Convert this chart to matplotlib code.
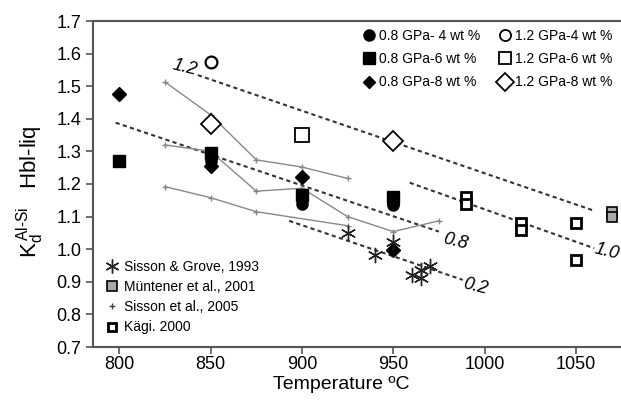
import matplotlib
matplotlib.use("Agg")
import matplotlib.pyplot as plt
from matplotlib.lines import Line2D

plt.rcParams['font.family'] = ['Liberation Sans', 'DejaVu Sans']
plt.rcParams['mathtext.fontset'] = 'custom'
plt.rcParams['mathtext.rm'] = 'Liberation Sans'
plt.rcParams['mathtext.it'] = 'Liberation Sans:italic'

# experiments (this study)
t_08_4 = [850, 850, 900, 900, 950, 950]
kd_08_4 = [1.28, 1.27, 1.15, 1.14, 1.14, 1.135]
t_08_6 = [800, 850, 900, 950]
kd_08_6 = [1.27, 1.295, 1.165, 1.16]
t_08_8 = [800, 850, 900, 950]
kd_08_8 = [1.475, 1.255, 1.22, 0.998]
t_12_4 = [850]
kd_12_4 = [1.575]
t_12_6 = [900]
kd_12_6 = [1.35]
t_12_8 = [850, 950]
kd_12_8 = [1.383, 1.333]

# literature
t_sg93 = [925, 940, 950, 960, 965, 965, 970]
kd_sg93 = [1.051, 0.982, 1.023, 0.921, 0.936, 0.911, 0.948]
t_mun01 = [1070, 1070]
kd_mun01 = [1.115, 1.098]
t_kagi = [990, 990, 1020, 1020, 1050, 1050]
kd_kagi = [1.161, 1.139, 1.081, 1.059, 1.079, 0.967]

# Sisson et al. 2005 series
s05_t1 = [825, 850, 875, 900, 925]
s05_kd1 = [1.513, 1.412, 1.274, 1.252, 1.217]
s05_t2 = [825, 850, 875, 900, 925, 950, 975]
s05_kd2 = [1.32, 1.30, 1.178, 1.187, 1.10, 1.054, 1.087]
s05_t3 = [825, 850, 875, 925]
s05_kd3 = [1.192, 1.158, 1.115, 1.072]

# dotted isopleths: label, (T start, T end), (Kd start, Kd end), label position
iso_labels = ['1.2', '1.0', '0.8', '0.2']
iso_t = [(843, 1060), (959, 1060), (798, 975), (893, 988)]
iso_kd = [(1.534, 1.118), (1.204, 1.003), (1.388, 1.054), (1.087, 0.906)]
iso_lab_t = [836, 1067, 984, 995]
iso_lab_kd = [1.556, 0.991, 1.022, 0.884]

fig = plt.figure(figsize=(6.21, 4.0), dpi=100)
ax = fig.add_axes([0.1498, 0.1325, 0.8502, 0.815])

for (t0, t1), (k0, k1) in zip(iso_t, iso_kd):
    ax.plot([t0, t1], [k0, k1], ls=(0, (2.0, 1.6)), color='#333333', lw=1.5, zorder=2)
for lab, tx, ky in zip(iso_labels, iso_lab_t, iso_lab_kd):
    ax.text(tx, ky, lab, fontsize=13, style='italic', rotation=-14,
            ha='center', va='center', zorder=3)

for t, kd in [(s05_t1, s05_kd1), (s05_t2, s05_kd2), (s05_t3, s05_kd3)]:
    ax.plot(t, kd, color='#888888', lw=1.0, marker='+', ms=5, mew=1.0, zorder=3)

ax.plot(t_08_6, kd_08_6, 's', color='black', ms=8.5, ls='none', zorder=4)
ax.plot(t_08_4, kd_08_4, 'o', color='black', ms=8, ls='none', zorder=4)
ax.plot(t_08_8, kd_08_8, 'D', color='black', ms=7, ls='none', zorder=5)
ax.plot(t_12_4, kd_12_4, 'o', mfc='white', mec='black', mew=1.6, ms=8.5, ls='none', zorder=4)
ax.plot(t_12_6, kd_12_6, 's', mfc='white', mec='black', mew=1.3, ms=10, ls='none', zorder=4)
ax.plot(t_12_8, kd_12_8, 'D', mfc='white', mec='black', mew=1.3, ms=10, ls='none', zorder=4)

star = (6, 2, 0)
ax.plot(t_sg93, kd_sg93, ls='none', marker=star, ms=11, mew=1.0, color='#222222', zorder=6)
ax.plot(t_mun01, kd_mun01, 's', mfc='#aaaaaa', mec='black', mew=1.2, ms=7, ls='none', zorder=4)
ax.plot(t_kagi, kd_kagi, 's', mfc='white', mec='black', mew=2.0, ms=6.5, ls='none', zorder=4)

ax.set_xlim(785.6, 1074.7)
ax.set_ylim(0.7, 1.7)
ax.set_xticks([800, 850, 900, 950, 1000, 1050])
ax.set_yticks([0.7 + 0.1 * i for i in range(11)])
ax.set_yticklabels([f'{0.7 + 0.1 * i:.1f}' for i in range(11)])
ax.tick_params(direction='out', length=5, width=1.2, labelsize=13, color='#555555')
ax.tick_params(axis='x', pad=1.5)
for side in ['left', 'bottom', 'top']:
    ax.spines[side].set_color('#555555')
    ax.spines[side].set_linewidth(1.5)
ax.spines['right'].set_visible(False)

ax.set_xlabel('Temperature ºC', fontsize=14)
ax.xaxis.set_label_coords(0.47, -0.088)

# y label: K_d^(Al-Si) followed by Hbl-liq on the same baseline
fig.text(0.06, 0.355, r'$\mathregular{K_d^{\,Al\text{-}Si}\quad Hbl\text{-}liq}$', fontsize=16,
         rotation=90, rotation_mode='anchor', ha='left', va='baseline')

# legend: experiments
h_exp = [
    Line2D([], [], ls='none', marker='o', color='black', ms=8),
    Line2D([], [], ls='none', marker='s', color='black', ms=8.5),
    Line2D([], [], ls='none', marker='D', color='black', ms=6),
    Line2D([], [], ls='none', marker='o', mfc='white', mec='black', mew=1.3, ms=8),
    Line2D([], [], ls='none', marker='s', mfc='white', mec='black', mew=1.3, ms=8.5),
    Line2D([], [], ls='none', marker='D', mfc='white', mec='black', mew=1.3, ms=9),
]
lab_exp = ['0.8 GPa- 4 wt %', '0.8 GPa-6 wt %', '0.8 GPa-8 wt %',
           '1.2 GPa-4 wt %', '1.2 GPa-6 wt %', '1.2 GPa-8 wt %']
leg1 = ax.legend(h_exp, lab_exp, ncol=2, loc='upper right', bbox_to_anchor=(1.0, 1.0),
                 frameon=False, fontsize=10, handlelength=0.9, handletextpad=0.3,
                 columnspacing=1.3, labelspacing=0.65, borderaxespad=0.2)
ax.add_artist(leg1)

h_lit = [
    Line2D([], [], ls='none', marker=star, color='#222222', ms=10, mew=1.0),
    Line2D([], [], ls='none', marker='s', mfc='#aaaaaa', mec='black', mew=1.2, ms=6.5),
    Line2D([], [], ls='none', marker='+', color='#444444', ms=5, mew=1.0),
    Line2D([], [], ls='none', marker='s', mfc='white', mec='black', mew=2.0, ms=6),
]
lab_lit = ['Sisson & Grove, 1993', 'Müntener et al., 2001', 'Sisson et al., 2005', 'Kägi. 2000']
ax.legend(h_lit, lab_lit, loc='lower left', bbox_to_anchor=(0.0, 0.0),
          frameon=False, fontsize=10, handlelength=0.9, handletextpad=0.45,
          labelspacing=0.45, borderaxespad=0.5)

fig.savefig('out.png', dpi=100)
